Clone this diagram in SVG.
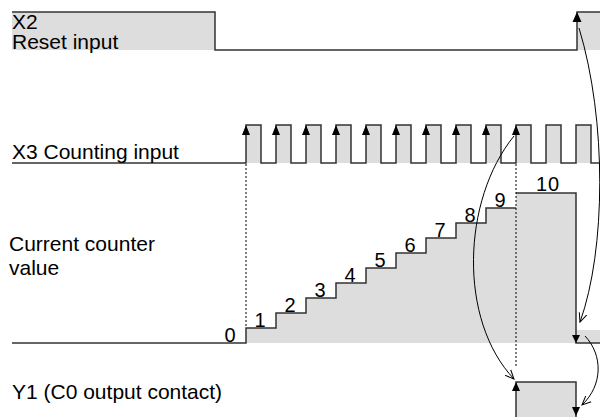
<svg xmlns="http://www.w3.org/2000/svg" width="600" height="417" viewBox="0 0 600 417">
<style>
.lbl{font-family:"Liberation Sans",Arial,sans-serif;font-size:21px;fill:#000}
.num{font-family:"Liberation Sans",Arial,sans-serif;font-size:20px;fill:#000;text-anchor:middle}
.sig{fill:none;stroke:#333;stroke-width:1.5}
.fill{fill:#dddddd;stroke:none}
.dot{fill:none;stroke:#000;stroke-width:1;stroke-dasharray:2,2}
.curve{fill:none;stroke:#000;stroke-width:1}
.ah{fill:#000}
</style>
<defs>
<marker id="open" viewBox="0 0 10 10" refX="9" refY="5" markerWidth="10" markerHeight="10" markerUnits="userSpaceOnUse" orient="auto">
<path d="M0,1 L9,5 L0,9" fill="none" stroke="#000" stroke-width="1"/>
</marker>
</defs>
<rect width="600" height="417" fill="#fff"/>

<g id="x2">
<rect class="fill" x="12" y="12" width="203" height="38"/>
<rect class="fill" x="577" y="12" width="23" height="38"/>
<path class="sig" d="M12,12 H215 V50 H577 V12 H600"/>
<polygon class="ah" points="572.5,22 581.5,22 577,12"/>
<text class="lbl" x="12" y="29">X2</text>
<text class="lbl" x="12" y="49">Reset input</text>
</g>

<g id="x3">
<rect class="fill" x="246" y="125" width="15" height="38"/>
<rect class="fill" x="276" y="125" width="15" height="38"/>
<rect class="fill" x="306" y="125" width="15" height="38"/>
<rect class="fill" x="336" y="125" width="15" height="38"/>
<rect class="fill" x="366" y="125" width="15" height="38"/>
<rect class="fill" x="396" y="125" width="15" height="38"/>
<rect class="fill" x="426" y="125" width="15" height="38"/>
<rect class="fill" x="456" y="125" width="15" height="38"/>
<rect class="fill" x="486" y="125" width="15" height="38"/>
<rect class="fill" x="516" y="125" width="15" height="38"/>
<rect class="fill" x="546" y="125" width="15" height="38"/>
<rect class="fill" x="576" y="125" width="15" height="38"/>
<path class="sig" d="M12,163 H246 V125 H261 V163 H276 V125 H291 V163 H306 V125 H321 V163 H336 V125 H351 V163 H366 V125 H381 V163 H396 V125 H411 V163 H426 V125 H441 V163 H456 V125 H471 V163 H486 V125 H501 V163 H516 V125 H531 V163 H546 V125 H561 V163 H576 V125 H591 V163 H600"/>
<polygon class="ah" points="242,135 250,135 246,125"/>
<polygon class="ah" points="272,135 280,135 276,125"/>
<polygon class="ah" points="302,135 310,135 306,125"/>
<polygon class="ah" points="332,135 340,135 336,125"/>
<polygon class="ah" points="362,135 370,135 366,125"/>
<polygon class="ah" points="392,135 400,135 396,125"/>
<polygon class="ah" points="422,135 430,135 426,125"/>
<polygon class="ah" points="452,135 460,135 456,125"/>
<polygon class="ah" points="482,135 490,135 486,125"/>
<polygon class="ah" points="512,135 520,135 516,125"/>
<text class="lbl" x="12" y="159">X3 Counting input</text>
</g>

<g id="counter">
<path class="fill" d="M246,343 V328 H276 V313 H306 V298 H336 V283 H366 V268 H396 V253 H426 V238 H456 V223 H486 V208 H516 V193 H576 V330 H600 V343 Z"/>
<path class="sig" d="M12,343 H246 V328 H276 V313 H306 V298 H336 V283 H366 V268 H396 V253 H426 V238 H456 V223 H486 V208 H516"/>
<path class="sig" d="M516,193 H576 V343 H600"/>
<polygon class="ah" points="572,335 580,335 576,343"/>
<text class="lbl" x="9" y="251">Current counter</text>
<text class="lbl" x="9" y="275">value</text>
<text class="num" x="230" y="342">0</text>
<text class="num" x="260" y="326.5">1</text>
<text class="num" x="290" y="311.5">2</text>
<text class="num" x="320" y="296.5">3</text>
<text class="num" x="350" y="281.5">4</text>
<text class="num" x="380" y="266.5">5</text>
<text class="num" x="410" y="251.5">6</text>
<text class="num" x="440" y="236.5">7</text>
<text class="num" x="470" y="221.5">8</text>
<text class="num" x="500" y="206.5">9</text>
<text class="num" x="548" y="191" letter-spacing="1">10</text>
</g>

<g id="y1">
<rect class="fill" x="516" y="382" width="60" height="35"/>
<path class="sig" d="M516,417 V382 H576 V417"/>
<polygon class="ah" points="512,391 520,391 516,382"/>
<polygon class="ah" points="572,407 580,407 576,416"/>
<text class="lbl" x="12" y="399">Y1 (C0 output contact)</text>
</g>

<g id="connectors">
<line class="dot" x1="246" y1="164" x2="246" y2="328"/>
<line class="dot" x1="516" y1="164" x2="516" y2="368"/>
<path class="curve" d="M579,28 C607,120 606,250 580,322" marker-end="url(#open)"/>
<path class="curve" d="M514,136 C462,200 458,320 514,379" marker-end="url(#open)"/>
<path class="curve" d="M585,336 C603,355 603,385 582,405" marker-end="url(#open)"/>
</g>
</svg>
